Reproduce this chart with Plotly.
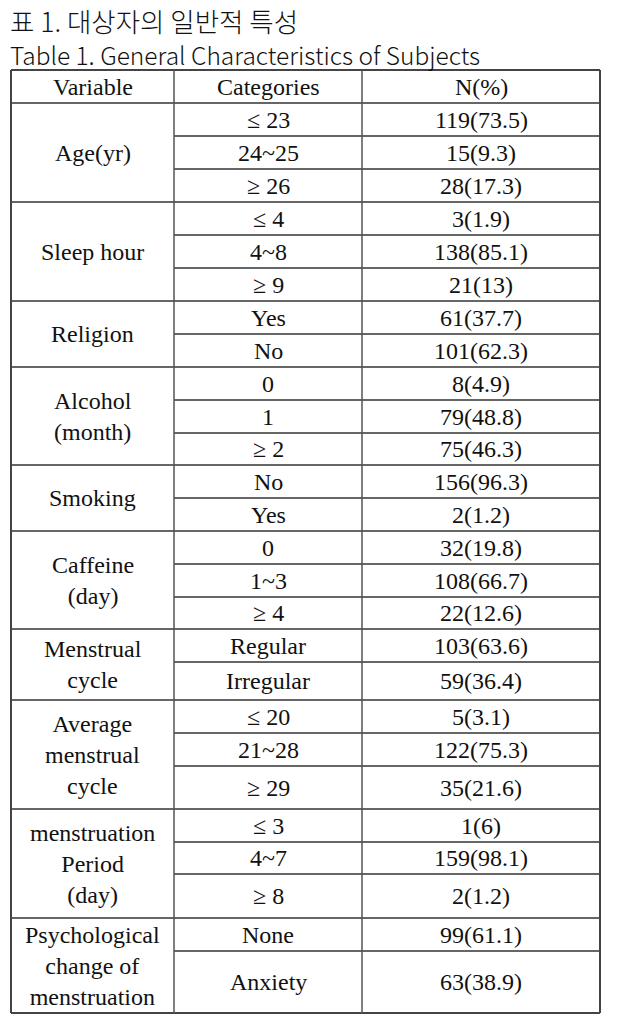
import plotly.graph_objects as go

# ---------------- data ----------------
title_ko = "표 1. 대상자의 일반적 특성"
title_en = "Table 1. General Characteristics of Subjects"
headers = ["Variable", "Categories", "N(%)"]

variables = [
    "Age(yr)",
    "Sleep hour",
    "Religion",
    "Alcohol<br>(month)",
    "Smoking",
    "Caffeine<br>(day)",
    "Menstrual<br>cycle",
    "Average<br>menstrual<br>cycle",
    "menstruation<br>Period<br>(day)",
    "Psychological<br>change of<br>menstruation",
]
categories = [
    ["≤ 23", "24~25", "≥ 26"],
    ["≤ 4", "4~8", "≥ 9"],
    ["Yes", "No"],
    ["0", "1", "≥ 2"],
    ["No", "Yes"],
    ["0", "1~3", "≥ 4"],
    ["Regular", "Irregular"],
    ["≤ 20", "21~28", "≥ 29"],
    ["≤ 3", "4~7", "≥ 8"],
    ["None", "Anxiety"],
]
counts = [
    [119, 15, 28],
    [3, 138, 21],
    [61, 101],
    [8, 79, 75],
    [156, 2],
    [32, 108, 22],
    [103, 59],
    [5, 122, 35],
    [1, 159, 2],
    [99, 63],
]
percents = [
    [73.5, 9.3, 17.3],
    [1.9, 85.1, 13],
    [37.7, 62.3],
    [4.9, 48.8, 46.3],
    [96.3, 1.2],
    [19.8, 66.7, 12.6],
    [63.6, 36.4],
    [3.1, 75.3, 21.6],
    [6, 98.1, 1.2],
    [61.1, 38.9],
]

# ---------------- layout (pixels) ----------------
W, H = 620, 1016
col_edges = [11, 174, 362, 600]
table_top = 70
header_h = 33
row_heights = [
    [33, 33, 33], [33, 33, 33], [33, 33], [33, 33, 32], [33, 33],
    [33, 33, 32], [33, 38], [33, 33, 43], [33, 32, 44], [33, 62],
]

serif = "Liberation Serif, Times New Roman, serif"
fs = 24
txt_col = "#111111"
line_col = "#333333"
border_col = "#444444"

shapes = []
annotations = []


def hline(y, x0, x1, color=line_col, w=1.5):
    shapes.append(dict(type="line", xref="x", yref="y", x0=x0, x1=x1, y0=y, y1=y,
                       line=dict(color=color, width=w)))


def vline(x, y0, y1, color=line_col, w=1.5):
    shapes.append(dict(type="line", xref="x", yref="y", x0=x, x1=x, y0=y0, y1=y1,
                       line=dict(color=color, width=w)))


def text(x, y, s, size=fs, family=serif, anchor="center", weight=None):
    font = dict(family=family, size=size, color=txt_col)
    if weight is not None:
        font["weight"] = weight
    annotations.append(dict(xref="x", yref="y", x=x, y=y, text=s, showarrow=False,
                            xanchor=anchor, yanchor="middle", font=font))


# titles
text(8, 20, title_ko, size=26.5, family="Noto Sans CJK KR", anchor="left", weight=300)
text(8, 54, title_en, size=24.5, family="Noto Sans CJK KR", anchor="left", weight=300)

# header
hline(table_top, col_edges[0], col_edges[-1], border_col, 2)
for i, h in enumerate(headers):
    text((col_edges[i] + col_edges[i + 1]) / 2, table_top + header_h / 2, h)
y = table_top + header_h
hline(y, col_edges[0], col_edges[-1])

# body
for vi, var in enumerate(variables):
    block_top = y
    block_h = sum(row_heights[vi])
    text((col_edges[0] + col_edges[1]) / 2, block_top + block_h / 2, var)
    ry = block_top
    for ci, cat in enumerate(categories[vi]):
        rh = row_heights[vi][ci]
        cy = ry + rh / 2
        text((col_edges[1] + col_edges[2]) / 2, cy, cat)
        text((col_edges[2] + col_edges[3]) / 2, cy, f"{counts[vi][ci]}({percents[vi][ci]:g})")
        ry += rh
        if ci < len(categories[vi]) - 1:
            hline(ry, col_edges[1], col_edges[-1])
    y = block_top + block_h
    if vi < len(variables) - 1:
        hline(y, col_edges[0], col_edges[-1])
    else:
        hline(y, col_edges[0], col_edges[-1], border_col, 2)

# verticals
vline(col_edges[0], table_top, y, border_col, 2)
vline(col_edges[-1], table_top, y, border_col, 2)
for x in col_edges[1:-1]:
    vline(x, table_top, y, "#555555", 1.5)

fig = go.Figure()
fig.update_layout(
    width=W, height=H,
    margin=dict(l=0, r=0, t=0, b=0),
    paper_bgcolor="white", plot_bgcolor="white",
    xaxis=dict(range=[0, W], visible=False, fixedrange=True),
    yaxis=dict(range=[H, 0], visible=False, fixedrange=True),
    shapes=shapes, annotations=annotations,
    showlegend=False,
)
fig.write_html(
    "out.html",
    config={"displayModeBar": False},
    post_script="document.body.style.margin='0';document.body.style.overflow='hidden';",
)
